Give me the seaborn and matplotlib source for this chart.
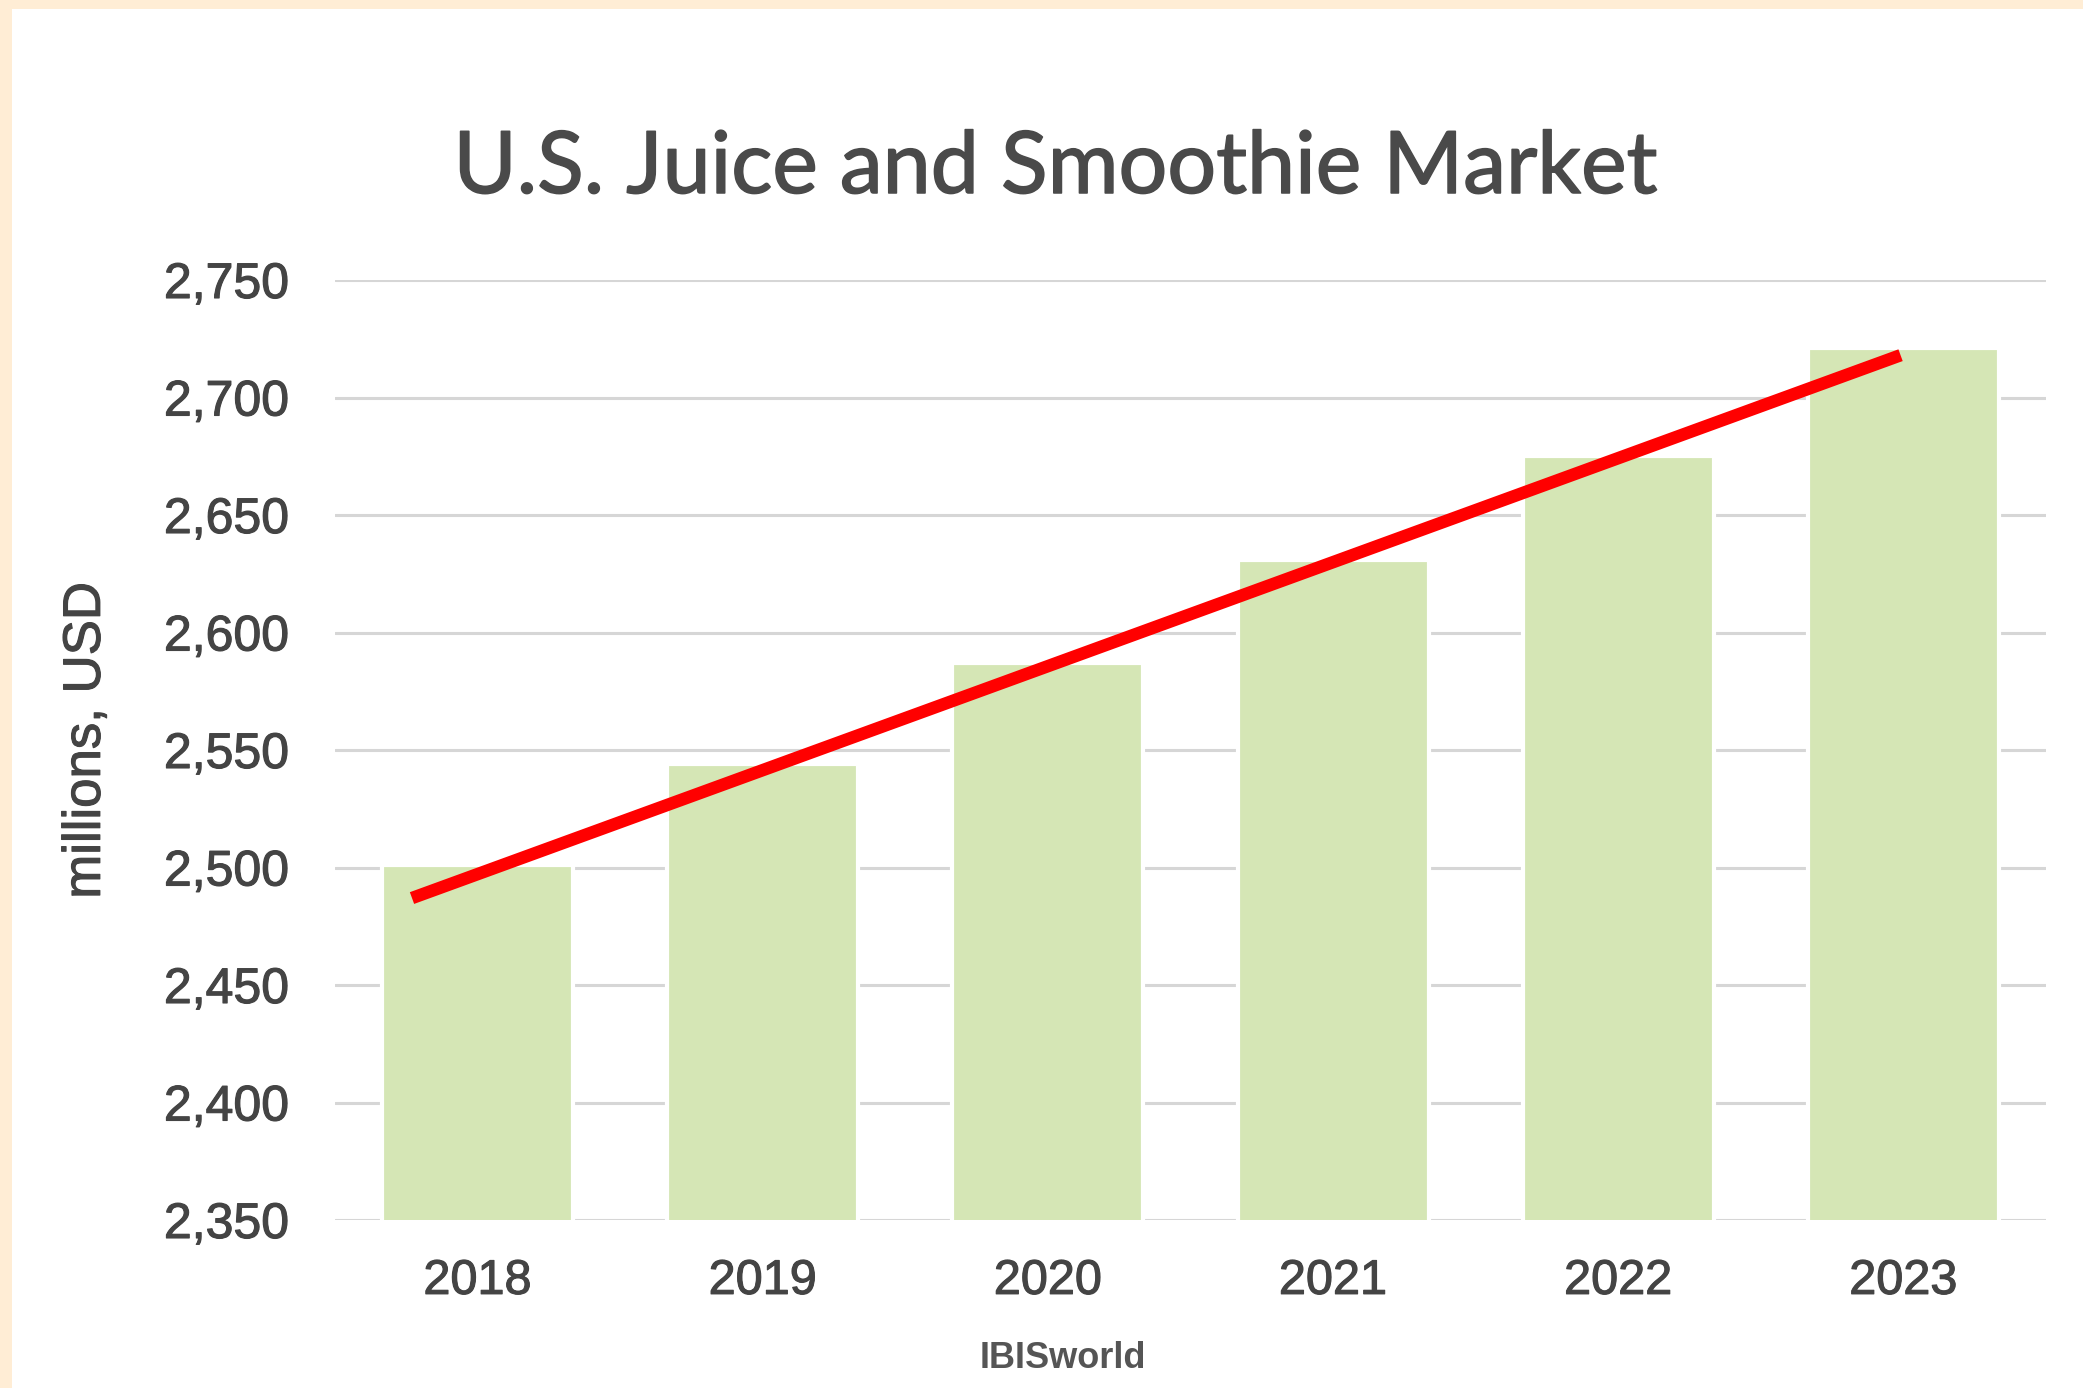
import matplotlib
matplotlib.use("Agg")
import matplotlib.pyplot as plt
import matplotlib.patches as mpatches
import matplotlib.patheffects as pe
import pandas as pd
import seaborn as sns

# data
years = ["2018", "2019", "2020", "2021", "2022", "2023"]
revenue = [2501, 2544, 2587, 2631, 2675, 2721]
y_ticks = [2350, 2400, 2450, 2500, 2550, 2600, 2650, 2700, 2750]
# hand-drawn trend line (category position, value)
trend_x = [-0.23, 4.99]
trend_y = [2487, 2718]

df = pd.DataFrame({"year": years, "revenue": revenue})

sns.set_theme(style="white")
plt.rcParams['font.family'] = ['Liberation Sans', 'DejaVu Sans']

text_col = "#444444"
thick = [pe.withStroke(linewidth=0.8, foreground=text_col)]

fig = plt.figure(figsize=(20.83, 13.88), dpi=100)
fig.patch.set_facecolor("#FFEDD5")
# white card with cream strip on top and left
card = mpatches.Rectangle((12 / 2083, 0), 1, 1 - 9 / 1388, transform=fig.transFigure,
                          facecolor="white", edgecolor="none", zorder=-10)
fig.add_artist(card)

ax = fig.add_axes([335 / 2083, 1 - 1220 / 1388, 1711 / 2083, 940 / 1388])
ax.set_facecolor("none")
ax.set_zorder(1)

sns.barplot(ax=ax, data=df, x="year", y="revenue", color="#D5E6B5",
            saturation=1, width=0.67, edgecolor="white", linewidth=3, zorder=2)
ax.plot(trend_x, trend_y, color="#FF0000", lw=9, solid_capstyle="butt", zorder=3)

ax.set_ylim(2350, 2750)
ax.set_xlim(-0.5, 5.5)
ax.set_yticks(y_ticks)
ax.set_yticklabels([f"{v:,}" for v in y_ticks])
ax.yaxis.grid(True, color="#D6D6D6", lw=2.2, zorder=1)
ax.set_axisbelow(True)
for s in ax.spines.values():
    s.set_visible(False)
ax.tick_params(axis="y", length=0, pad=33, labelsize=36, labelcolor=text_col)
ax.tick_params(axis="x", length=0, pad=28, labelsize=35, labelcolor=text_col)
for lab in ax.get_xticklabels() + ax.get_yticklabels():
    lab.set_path_effects(thick)

ax.set_xlabel("")
ax.set_ylabel("millions, USD", fontsize=38, color=text_col, path_effects=thick)
ax.yaxis.set_label_coords(-0.131, 0.51)

fig.text(1056 / 2083, 1 - 169 / 1388, "U.S. Juice and Smoothie Market",
         ha="center", va="center", fontsize=62, color="#4A4A4A",
         family=["Lato", "DejaVu Sans"],
         path_effects=[pe.withStroke(linewidth=1.1, foreground="#4A4A4A")])
fig.text(1063 / 2083, 1 - 1359 / 1388, "IBISworld", ha="center", va="center",
         fontsize=26, fontweight="bold", color="#555555")

fig.savefig("out.png", dpi=100, facecolor=fig.get_facecolor())
